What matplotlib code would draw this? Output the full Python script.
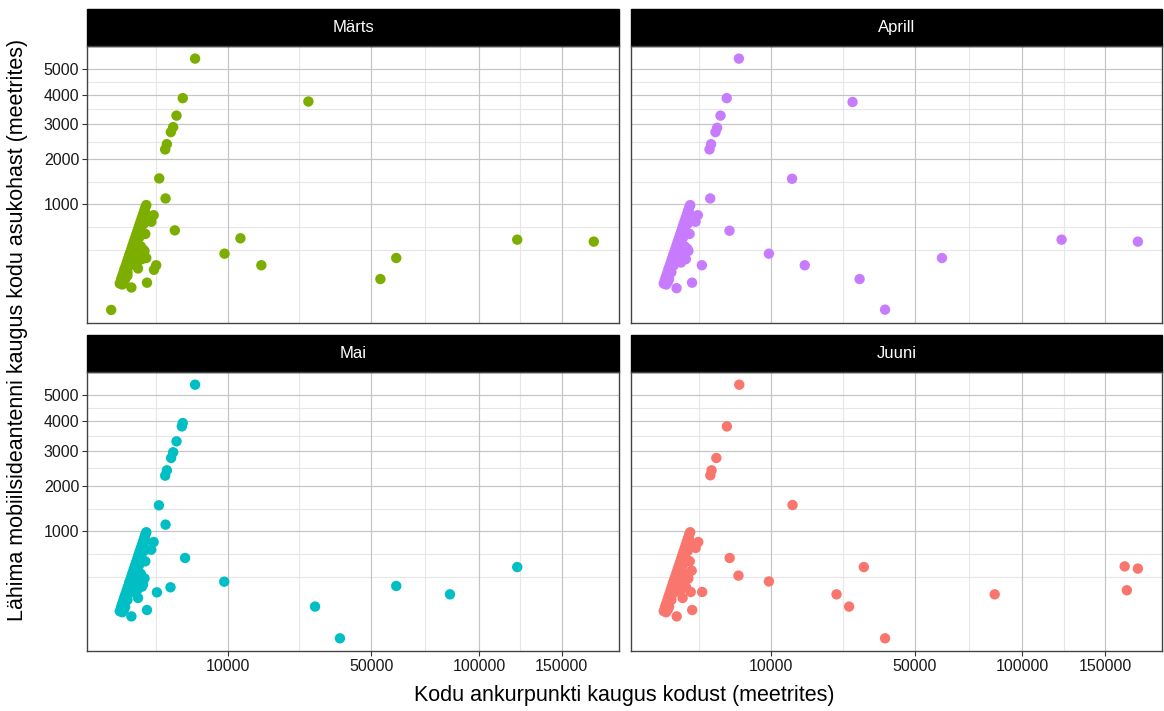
import numpy as np
import matplotlib.pyplot as plt
from matplotlib.patches import Rectangle

plt.rcParams['font.family'] = ['Liberation Sans', 'DejaVu Sans']

kuud = ['Märts', 'Aprill', 'Mai', 'Juuni']
varvid = ['#7CAE00', '#C77CFF', '#00BFC4', '#F8766D']

# tihe diagonaalne kogum vasakul (sama igas kuus)
klaster_x = [55, 71, 88, 108, 130, 154, 180, 207, 237, 269, 303, 339, 376, 416,
             458, 502, 548, 595, 645, 697, 751, 807, 864, 912,
             90, 132, 182, 240, 306, 380, 462, 552, 650, 756, 870,
             144, 196, 256, 324, 400, 484, 576, 676, 784,
             90, 120, 600, 700, 820, 650, 500]
klaster_y = [77, 98, 117, 139, 166, 190, 219, 250, 286, 317, 353, 392, 433, 475,
             520, 566, 615, 666, 718, 773, 829, 888, 949, 986,
             81, 125, 169, 231, 289, 369, 441, 538, 625, 740, 841,
             100, 144, 196, 256, 324, 400, 484, 576, 676,
             72, 85, 300, 250, 330, 380, 220]

marts_x = [5200, 3785, 3152, 2837, 2630, 2290, 2153, 1705, 2185, 2992, 1498, 1351,
           947, 301, 0, 1332, 1190, 860, 749, 910, 532, 194, 446,
           28730, 9490, 12345, 16660, 53540, 60030, 121800, 172060]
marts_y = [5430, 3878, 3275, 2905, 2753, 2399, 2253, 1529, 1110, 581, 197, 162,
           81, 58, 1.3, 811, 707, 532, 346, 260, 172, 121, 254,
           3758, 302, 476, 197, 101, 260, 459, 435]

aprill_x = [5200, 3800, 3170, 2850, 2700, 2320, 2190, 2250, 4100, 1620, 1010, 340,
            1350, 1210, 880, 770, 28900, 13900, 9600, 16600, 31000, 39200,
            61000, 122500, 172800]
aprill_y = [5430, 3878, 3275, 2885, 2753, 2399, 2253, 1110, 576, 197, 81, 55,
            811, 707, 532, 353, 3740, 1521, 302, 197, 101, 1.5,
            260, 459, 435]

mai_x = [5200, 3785, 3688, 3152, 2837, 2655, 2290, 2155, 1683, 2185, 4035, 2600,
         1545, 947, 302, 1332, 1183, 860, 749, 532,
         9445, 30700, 38660, 60030, 84800, 121800]
mai_y = [5430, 3930, 3810, 3300, 2950, 2775, 2415, 2268, 1530, 1128, 577, 244,
         201, 83, 53, 818, 697, 532, 269, 158,
         297, 102, 1, 256, 185, 459]

juuni_x = [5250, 3820, 2780, 2360, 2260, 4120, 5150, 1640, 1020, 345, 1380, 1220,
           890, 990, 940, 560, 14000, 9600, 24400, 27900, 32300, 39200, 85500,
           163500, 172800, 165000]
juuni_y = [5430, 3810, 2775, 2415, 2277, 577, 360, 204, 83, 53, 818, 724,
           532, 416, 204, 158, 1537, 299, 185, 102, 459, 1, 185,
           467, 440, 218]

andmed_x = [marts_x, aprill_x, mai_x, juuni_x]
andmed_y = [marts_y, aprill_y, mai_y, juuni_y]

x_murded = [10000, 50000, 100000, 150000]
y_murded = [1000, 2000, 3000, 4000, 5000]


def sq(v):
    v = np.asarray(v, dtype=float)
    return np.sign(v) * np.sqrt(np.abs(v))


def sq_inv(v):
    v = np.asarray(v, dtype=float)
    return np.sign(v) * v ** 2


def piirid(koik):
    t = sq(koik)
    lo, hi = t.min(), t.max()
    pad = 0.05 * (hi - lo)
    return lo - pad, hi + pad


def vahemurded(murded, lo, hi):
    # ggploti moodi abijooned: poolitused sqrt-ruumis
    b = list(sq(murded))
    bd = b[1] - b[0]
    if lo < b[0]:
        b = [b[0] - bd] + b
    if hi > b[-1]:
        b = b + [b[-1] + bd]
    out = []
    for i in range(len(b) - 1):
        out += [b[i], (b[i] + b[i + 1]) / 2]
    out.append(b[-1])
    return [v for v in out if lo <= v <= hi]


koik_x = np.concatenate([klaster_x] + [np.array(a, float) for a in andmed_x])
koik_y = np.concatenate([klaster_y] + [np.array(a, float) for a in andmed_y])
xlo, xhi = piirid(koik_x)
ylo, yhi = piirid(koik_y)

W, H = 1164, 711
fig = plt.figure(figsize=(W / 100, H / 100), dpi=100)

paneelid = [(87, 46, 619, 323), (631, 46, 1162, 323),
            (87, 372, 619, 651), (631, 372, 1162, 651)]

for i, (x0, y0, x1, y1) in enumerate(paneelid):
    ax = fig.add_axes([x0 / W, 1 - y1 / H, (x1 - x0) / W, (y1 - y0) / H])
    ax.set_xscale('function', functions=(sq, sq_inv))
    ax.set_yscale('function', functions=(sq, sq_inv))
    ax.set_xlim(sq_inv(xlo), sq_inv(xhi))
    ax.set_ylim(sq_inv(ylo), sq_inv(yhi))

    for v in vahemurded(x_murded, xlo, xhi):
        ax.axvline(sq_inv(v), color='#e6e6e6', lw=0.8, zorder=0.5)
    for v in vahemurded(y_murded, ylo, yhi):
        ax.axhline(sq_inv(v), color='#e6e6e6', lw=0.8, zorder=0.5)
    for v in x_murded:
        ax.axvline(v, color='#c4c4c4', lw=0.8, zorder=0.6)
    for v in y_murded:
        ax.axhline(v, color='#c4c4c4', lw=0.8, zorder=0.6)

    ax.scatter(klaster_x, klaster_y, s=56, color=varvid[i], edgecolors='none', zorder=3)
    ax.scatter(andmed_x[i], andmed_y[i], s=56, color=varvid[i], edgecolors='none', zorder=3)

    ax.set_xticks(x_murded)
    ax.set_yticks(y_murded)
    ax.minorticks_off()
    ax.tick_params(length=3.5, width=0.8, color='#333333', labelsize=11.5,
                   labelcolor='#1a1a1a', pad=2)
    if i < 2:
        ax.tick_params(axis='x', length=0, labelbottom=False)
    else:
        ax.set_xticklabels([str(v) for v in x_murded])
    if i % 2 == 1:
        ax.tick_params(axis='y', length=0, labelleft=False)
    else:
        ax.set_yticklabels([str(v) for v in y_murded])

    for s in ax.spines.values():
        s.set_color('#444444')
        s.set_linewidth(1.0)

    h = y1 - y0
    ax.add_patch(Rectangle((0, 1), 1, 37 / h, transform=ax.transAxes,
                           facecolor='black', edgecolor='black', clip_on=False))
    ax.text(0.5, 1 + 18.5 / h, kuud[i], transform=ax.transAxes, color='white',
            fontsize=12, ha='center', va='center')

fig.text(624.5 / W, 1 - 695 / H, 'Kodu ankurpunkti kaugus kodust (meetrites)',
         ha='center', va='center', fontsize=15.5)
fig.text(18 / W, 1 - 330 / H, 'Lähima mobiilsideantenni kaugus kodu asukohast (meetrites)',
         ha='center', va='center', rotation=90, fontsize=15.5)

plt.savefig('out.png', dpi=100)
